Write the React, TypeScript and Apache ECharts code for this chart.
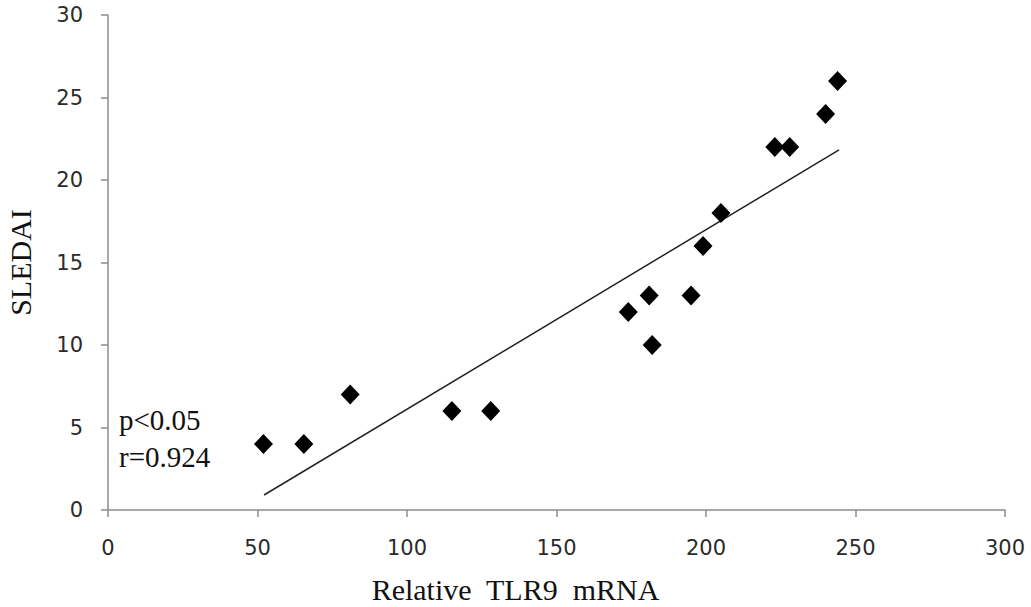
import React, { useEffect, useRef } from "react";
import * as echarts from "echarts";

const tlr9 = [52, 65.5, 81, 115, 128, 174, 181, 182, 195, 199, 205, 223, 228, 240, 244];
const sledai = [4, 4, 7, 6, 6, 12, 13, 10, 13, 16, 18, 22, 22, 24, 26];
const trendX = [52.2, 244.5];
const trendY = [0.91, 21.83];
const xTicks = [0, 50, 100, 150, 200, 250, 300];
const yTicks = [0, 5, 10, 15, 20, 25, 30];
const statLines = ["p<0.05", "r=0.924"];

export default function App() {
  const ref = useRef<HTMLDivElement>(null);
  useEffect(() => {
    if (!ref.current) return;
    const chart = echarts.init(ref.current, undefined, { renderer: "svg" });
    const axisCommon = {
      axisLine: { show: true, lineStyle: { color: "#8c8c8c", width: 1.5 } },
      axisTick: { show: true, length: 7, lineStyle: { color: "#8c8c8c", width: 1.5 } },
      splitLine: { show: false },
    };
    chart.setOption({
      animation: false,
      backgroundColor: "#ffffff",
      grid: { left: 108, right: 26, top: 15, bottom: 97, outerBoundsMode: "none", containLabel: false },
      xAxis: {
        type: "value",
        min: xTicks[0],
        max: xTicks[xTicks.length - 1],
        interval: 50,
        ...axisCommon,
        axisLabel: { color: "#2b2b2b", fontFamily: "DejaVu Sans", fontSize: 21, margin: 27 },
        name: "Relative  TLR9  mRNA",
        nameLocation: "middle",
        nameGap: 64,
        nameTextStyle: { color: "#111", fontFamily: "Liberation Serif", fontSize: 30, padding: [0, 82, 0, 0] },
      },
      yAxis: {
        type: "value",
        min: yTicks[0],
        max: yTicks[yTicks.length - 1],
        interval: 5,
        ...axisCommon,
        axisLabel: { color: "#2b2b2b", fontFamily: "DejaVu Sans", fontSize: 21, margin: 25 },
        name: "SLEDAI",
        nameLocation: "middle",
        nameGap: 73,
        nameRotate: 90,
        nameTextStyle: { color: "#111", fontFamily: "Liberation Serif", fontSize: 30 },
      },
      series: [
        {
          type: "line",
          data: trendX.map((x, i) => [x, trendY[i]]),
          symbol: "none",
          lineStyle: { color: "#222", width: 1.5 },
          z: 1,
        },
        {
          type: "scatter",
          data: tlr9.map((x, i) => [x, sledai[i]]),
          symbol: "diamond",
          symbolSize: [19, 20],
          itemStyle: { color: "#000", opacity: 1 },
          z: 2,
        },
      ],
      graphic: [
        {
          type: "text",
          left: 119,
          top: 401,
          style: {
            text: statLines.join("\n"),
            font: "29px 'Liberation Serif'",
            lineHeight: 37,
            fill: "#111",
          },
        },
      ],
    });
    return () => chart.dispose();
  }, []);
  return <div ref={ref} style={{ position: "fixed", left: 0, top: 0, width: 1031, height: 607 }} />;
}
